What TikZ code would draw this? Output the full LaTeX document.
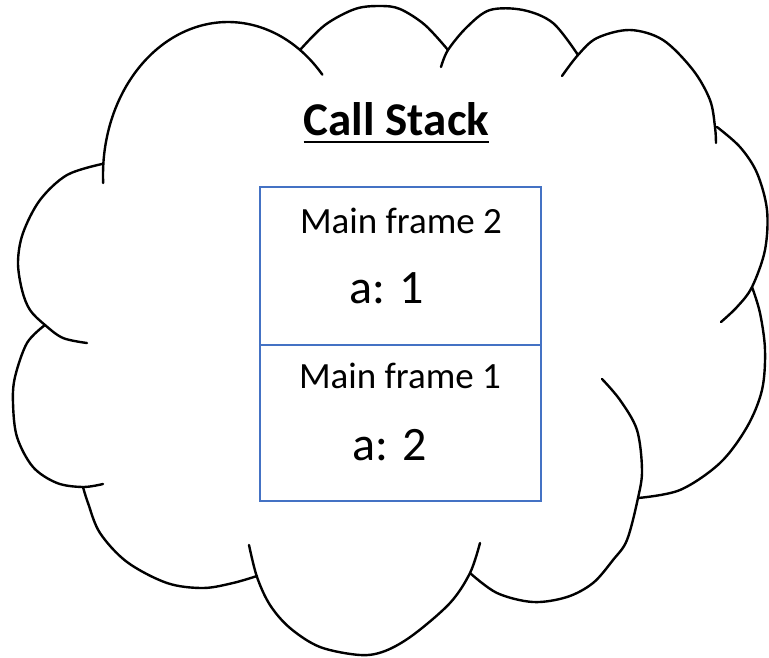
\documentclass[tikz,border=0pt]{standalone}
\usepackage{fontspec}
\setmainfont{Carlito}
\definecolor{boxblue}{HTML}{4472C4}
\begin{document}
\begin{tikzpicture}[x=1pt,y=-1pt,
  cloudline/.style={line width=2.4pt, draw=black, line cap=round},
  lobe/.style={smooth, tension=0.55},
  framebox/.style={draw=boxblue, line width=2.2pt},
  title/.style={inner sep=0pt, anchor=base, font=\bfseries\fontsize{47}{50}\selectfont},
  lbl/.style={inner sep=0pt, anchor=base, font=\fontsize{37}{40}\selectfont},
  val/.style={inner sep=0pt, anchor=base, font=\fontsize{48}{52}\selectfont}]
\useasboundingbox (0,0) rectangle (769,657);
% cloud lobes
\draw[cloudline] plot[domain=177:319, samples=90, smooth] ({228+125*cos(\x)},{175+153*sin(\x)});
\draw[cloudline] plot[lobe] coordinates {(102,164) (67,175) (40,200) (23,233) (18,262) (22,290) (30,310) (45,325) (63,338) (87,343)};
\draw[cloudline] plot[lobe] coordinates {(45,325) (27,343) (15,377) (13,403) (17,437) (33,467) (57,483) (83,487) (103,484)};
\draw[cloudline] plot[lobe] coordinates {(83,487) (88,503) (100,533) (127,562) (167,583) (203,588) (233,583) (257,576)};
\draw[cloudline] plot[lobe] coordinates {(249,545) (257,577) (270,605) (290,628) (320,647) (360,655) (385,651) (413,635) (450,603) (470,573) (480,543)};
\draw[cloudline] plot[lobe] coordinates {(470,573) (497,593) (533,602) (567,597) (593,583) (613,560) (627,540) (638,498) (642,470) (637,430) (620,400) (602,379)};
\draw[cloudline] plot[lobe] coordinates {(638,498) (680,490) (720,463) (747,427) (762,390) (765,350) (760,313) (752,287)};
\draw[cloudline] plot[lobe] coordinates {(717,127) (740,147) (757,173) (767,210) (765,250) (752,287) (737,307) (721,322)};
\draw[cloudline] plot[lobe] coordinates {(562,76) (578,55) (597,38) (630,30) (663,40) (693,70) (710,100) (715,127) (716,143)};
\draw[cloudline] plot[lobe] coordinates {(441,67) (448,50) (467,27) (490,10) (523,10) (553,23) (578,55)};
\draw[cloudline] plot[lobe] coordinates {(300,50) (325,25) (355,9) (380,6) (400,9) (425,25) (448,50)};
% stack frames
\draw[framebox] (260,187) rectangle (541,345);
\draw[framebox] (260,345) rectangle (541,501);
% texts
\node[title] (cs) at (396.5,135) {Call Stack};
\draw[line width=2.5pt] ([yshift=-7pt]cs.base west) -- ([yshift=-7pt]cs.base east);
\node[lbl] (m2) at (401,233) {Main frame 2};
\node[val] (v2) at (386.5,303) {a: 1};
\node[lbl] (m1) at (400,388) {Main frame 1};
\node[val] (v1) at (390,460) {a: 2};
\end{tikzpicture}
\end{document}
